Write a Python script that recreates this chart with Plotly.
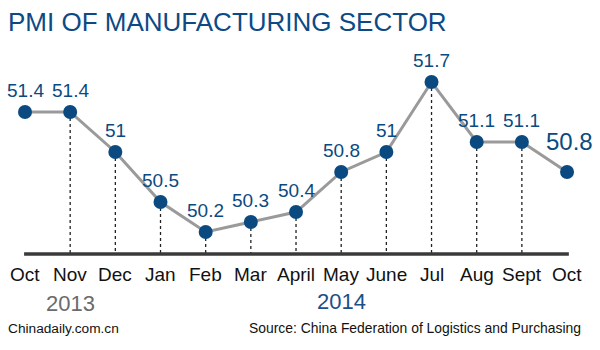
import plotly.graph_objects as go

months = ["Oct", "Nov", "Dec", "Jan", "Feb", "Mar", "April", "May", "June", "Jul", "Aug", "Sept", "Oct"]
pmi = [51.4, 51.4, 51.0, 50.5, 50.2, 50.3, 50.4, 50.8, 51.0, 51.7, 51.1, 51.1, 50.8]
value_labels = ["51.4", "51.4", "51", "50.5", "50.2", "50.3", "50.4", "50.8", "51", "51.7", "51.1", "51.1", "50.8"]
years = ["2013", "2014"]
year_pos = [1, 7]
baseline = 49.98

FONT = "Liberation Sans, Arial, sans-serif"
BLUE = "#0b4a80"
xs = list(range(len(months)))

fig = go.Figure()

# dotted drop lines (Nov..Sept)
dx, dy = [], []
for i in xs[1:-1]:
    dx += [i, i, None]
    dy += [pmi[i], baseline, None]
fig.add_trace(go.Scatter(x=dx, y=dy, mode="lines",
                         line=dict(color="#222222", width=1.3, dash="dot"),
                         hoverinfo="skip", showlegend=False))

# base axis line
fig.add_trace(go.Scatter(x=[xs[0] - 0.02, xs[-1] + 0.04], y=[baseline, baseline], mode="lines",
                         line=dict(color="#3a3a3a", width=3.5), hoverinfo="skip", showlegend=False))

# main line
fig.add_trace(go.Scatter(x=xs, y=pmi, mode="lines+markers",
                         line=dict(color="#9a9a9a", width=3),
                         marker=dict(color=BLUE, size=14),
                         showlegend=False))

annotations = []
for i, (v, t) in enumerate(zip(pmi, value_labels)):
    last = i == len(pmi) - 1
    annotations.append(dict(x=i, y=v, text=t, showarrow=False, xanchor="center", yanchor="middle",
                            yshift=31 if last else 22, xshift=2 if last else 0,
                            font=dict(family=FONT, size=24 if last else 19, color=BLUE)))
for i, m in enumerate(months):
    annotations.append(dict(x=i, y=49.78, text=m, showarrow=False, xanchor="center", yanchor="middle",
                            font=dict(family=FONT, size=19, color="#111111")))
annotations.append(dict(x=year_pos[0], y=49.49, text=years[0], showarrow=False, xanchor="center",
                        yanchor="middle", font=dict(family=FONT, size=22, color="#6b6b6b")))
annotations.append(dict(x=year_pos[1], y=49.51, text=years[1], showarrow=False, xanchor="center",
                        yanchor="middle", font=dict(family=FONT, size=22, color="#1a4f8a")))
annotations.append(dict(xref="paper", yref="paper", x=6/600, y=1 - 22/350, text="PMI OF MANUFACTURING SECTOR",
                        showarrow=False, xanchor="left", yanchor="middle",
                        font=dict(family=FONT, size=26, color="#0d4a85")))
annotations.append(dict(xref="paper", yref="paper", x=6/600, y=1 - 328/350, text="Chinadaily.com.cn",
                        showarrow=False, xanchor="left", yanchor="middle",
                        font=dict(family=FONT, size=13.7, color="#111111")))
annotations.append(dict(xref="paper", yref="paper", x=583/600, y=1 - 328/350,
                        text="Source: China Federation of Logistics and Purchasing",
                        showarrow=False, xanchor="right", yanchor="middle",
                        font=dict(family=FONT, size=13.9, color="#111111")))

fig.update_layout(
    width=600, height=350,
    margin=dict(l=0, r=0, t=0, b=0),
    paper_bgcolor="white", plot_bgcolor="white",
    xaxis=dict(range=[-25/45.17, 575/45.17], visible=False, fixedrange=True),
    yaxis=dict(range=[49.02, 52.52], visible=False, fixedrange=True),
    annotations=annotations,
)

fig.write_html("out.html", config={"displayModeBar": False})
